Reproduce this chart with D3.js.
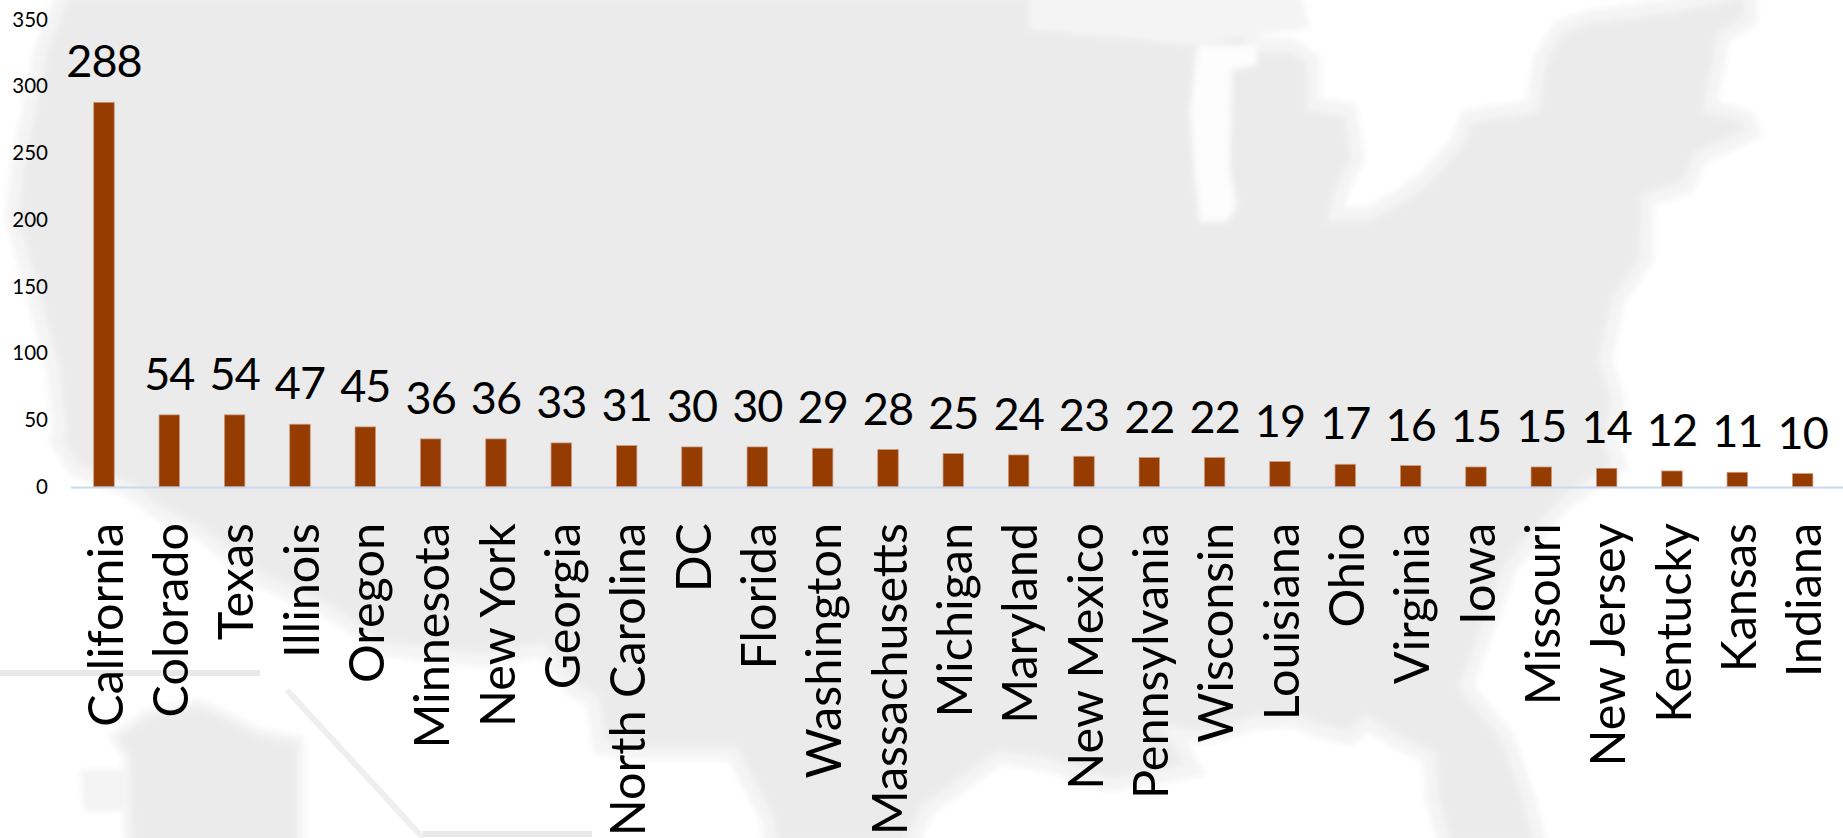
<!DOCTYPE html>
<html>
<head>
<meta charset="utf-8">
<title>States</title>
<script src="https://cdn.jsdelivr.net/npm/d3@7"></script>
<style>
  html, body { margin: 0; padding: 0; background: #fff; overflow: hidden; }
  svg { display: block; }
  text { font-family: Lato, "Open Sans", sans-serif; fill: #000; }
  .y.axis text { font-size: 20.5px; }
  .x.axis text { font-size: 48.5px; }
  .value { font-size: 45px; letter-spacing: -1px; text-anchor: middle; }
</style>
</head>
<body>
<div id="chart"></div>
<script>
var states = ["California", "Colorado", "Texas", "Illinois", "Oregon", "Minnesota", "New York", "Georgia",
  "North Carolina", "DC", "Florida", "Washington", "Massachusetts", "Michigan", "Maryland", "New Mexico",
  "Pennsylvania", "Wisconsin", "Louisiana", "Ohio", "Virginia", "Iowa", "Missouri", "New Jersey",
  "Kentucky", "Kansas", "Indiana"];
var counts = [288, 54, 54, 47, 45, 36, 36, 33, 31, 30, 30, 29, 28, 25, 24, 23, 22, 22, 19, 17, 16, 15, 15, 14, 12, 11, 10];
var yTicks = [0, 50, 100, 150, 200, 250, 300, 350];

// faded backdrop in page pixels
var mapOutline = [[65, -10], [1036, -10], [1036, 24], [1170, 26], [1255, 30], [1250, 35],
  [1257, 45], [1290, 45], [1313, 60], [1313, 105], [1350, 110], [1358, 160], [1345, 180], [1335, 215], [1370, 213],
  [1400, 197], [1423, 180], [1457, 143], [1467, 117], [1533, 107], [1540, 60], [1560, 27], [1590, 17], [1667, 7],
  [1750, -10], [1750, 20], [1723, 37], [1710, 107], [1747, 117], [1753, 133], [1700, 157], [1687, 187], [1647, 200],
  [1646, 260], [1618, 300], [1605, 360], [1618, 400], [1610, 443], [1620, 465], [1580, 493], [1567, 500], [1510, 567],
  [1478, 653], [1466, 687], [1507, 737], [1530, 803], [1542, 850], [1447, 850], [1433, 800], [1430, 757], [1400, 743],
  [1367, 723], [1350, 738], [1317, 730], [1293, 720], [1253, 723], [1207, 737], [1173, 733], [1195, 770], [1110, 785],
  [1050, 765], [1000, 757], [977, 773], [927, 810], [907, 850], [773, 850], [767, 817], [747, 780], [733, 753],
  [647, 753], [600, 747], [593, 700], [573, 690], [543, 650], [480, 660], [380, 648], [333, 613], [260, 580],
  [200, 533], [155, 510], [130, 490], [75, 470], [57, 440], [60, 427], [53, 367], [35, 300], [12, 217], [18, 167], [41, 50]];
var superiorShore = [[1036, -10], [1300, -10], [1310, 28], [1250, 36], [1190, 45], [1036, 30]];
var lakeMichigan = [[1197, 45], [1257, 45], [1257, 65], [1232, 70], [1230, 170], [1237, 205], [1227, 222],
  [1200, 222], [1195, 180], [1190, 110]];
var alaskaInset = [[113, 737], [147, 713], [200, 703], [260, 733], [300, 740], [300, 850], [128, 850], [127, 757]];
var alaskaIsles = [[80, 770], [125, 770], [135, 810], [85, 812]];
var insetLines = [
  [[-5, 673], [260, 673]],
  [[287, 690], [423, 838]],
  [[423, 834], [592, 834]]
];

var width = 1843,
  height = 838,
  baseline = 487,
  x = d3.scaleBand().domain(states).range([71.3, 1835.3]).paddingInner(0.686).paddingOuter(0.343),
  y = d3.scaleLinear().domain([0, 350]).range([baseline, 19.5]),
  line = d3.line();

var svg = d3.select("#chart").append("svg")
  .attr("width", width)
  .attr("height", height);

svg.append("filter")
  .attr("id", "soft")
  .attr("x", "-5%").attr("y", "-5%").attr("width", "110%").attr("height", "110%")
  .append("feGaussianBlur")
  .attr("stdDeviation", 3);

// Backdrop map: pale fringe under a solid fill, blurred like the scaled-up original
var backdrop = svg.append("g").attr("class", "backdrop").attr("filter", "url(#soft)");
backdrop.append("path").attr("d", line(mapOutline) + "Z")
  .attr("fill", "#ebebeb")
  .attr("stroke", "#f4f4f4")
  .attr("stroke-width", 14);
backdrop.append("path").attr("d", line(superiorShore) + "Z").attr("fill", "#f4f4f4");
backdrop.append("path").attr("d", line(lakeMichigan) + "Z").attr("fill", "#fdfdfd");
backdrop.append("path").attr("d", line(alaskaIsles) + "Z").attr("fill", "#f3f3f3");
backdrop.append("path").attr("d", line(alaskaInset) + "Z")
  .attr("fill", "#ebebeb")
  .attr("stroke", "#f4f4f4")
  .attr("stroke-width", 8);

svg.append("g").selectAll("path")
  .data(insetLines)
  .enter().append("path")
  .attr("d", function(d) { return line(d); })
  .attr("fill", "none")
  .attr("stroke", function(d, i) { return i === 1 ? "#efefef" : "#e8e8e8"; })
  .attr("stroke-width", 6);

// Bars
svg.selectAll(".bar")
  .data(states)
  .enter().append("rect")
  .attr("class", "bar")
  .attr("x", function(d) { return x(d); })
  .attr("width", x.bandwidth())
  .attr("y", function(d, i) { return y(counts[i]); })
  .attr("height", function(d, i) { return baseline - y(counts[i]); })
  .attr("fill", "#963c00")
  .attr("stroke", "#c99a7c")
  .attr("stroke-width", 0.75);

// Baseline runs to the page edge
svg.append("line")
  .attr("x1", 71).attr("x2", width)
  .attr("y1", baseline + 0.5).attr("y2", baseline + 0.5)
  .attr("stroke", "#c9d8f0")
  .attr("stroke-width", 2);

// Axes
var yAxis = d3.axisLeft(y).tickValues(yTicks).tickSize(0).tickPadding(0);
svg.append("g")
  .attr("class", "y axis")
  .attr("transform", "translate(48,0)")
  .call(yAxis)
  .call(function(g) { g.select(".domain").remove(); })
  .selectAll("text")
  .style("font-family", "Lato, 'Open Sans', sans-serif");

var xAxis = d3.axisBottom(x).tickSize(0);
svg.append("g")
  .attr("class", "x axis")
  .attr("transform", "translate(0," + baseline + ")")
  .call(xAxis)
  .call(function(g) { g.select(".domain").remove(); })
  .selectAll("text")
  .style("font-family", "Lato, 'Open Sans', sans-serif")
  .attr("text-anchor", "end")
  .attr("dy", 0)
  .attr("x", -36)
  .attr("y", 18.7)
  .attr("transform", "rotate(-90)");

// Value labels
svg.selectAll(".value")
  .data(states)
  .enter().append("text")
  .attr("class", "value")
  .attr("x", function(d) { return x(d) + x.bandwidth() / 2; })
  .attr("y", function(d, i) { return y(counts[i]) - 25; })
  .text(function(d, i) { return counts[i]; });
</script>
</body>
</html>
